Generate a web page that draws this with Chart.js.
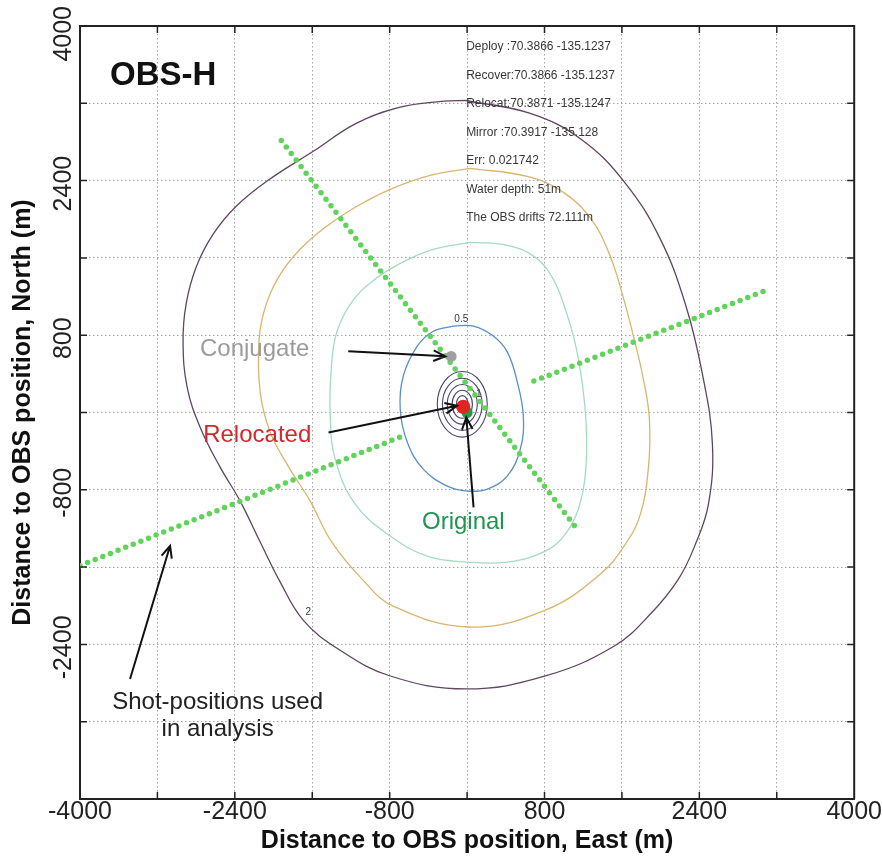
<!DOCTYPE html>
<html>
<head>
<meta charset="utf-8">
<title>OBS-H</title>
<script src="https://cdn.jsdelivr.net/npm/chart.js@4.4.1/dist/chart.umd.min.js"></script>
<style>
  html, body { margin: 0; padding: 0; background: #fff; }
</style>
</head>
<body>
<canvas id="obsChart" width="883" height="860"></canvas>
<script>
// tick labels (metres)
const xTickLabels = [-4000, -2400, -800, 800, 2400, 4000];
const yTickLabels = [-2400, -800, 800, 2400, 4000];

// shot lines, end points (East, North)
const shotLineA = [[-1920, 2815], [1135, -1205]];
const shotLineB1 = [[-4000, -1585], [-620, -225]];
const shotLineB2 = [[690, 325], [3105, 1270]];

// positions
const originalPos = [0, 0];
const relocatedPos = [-40, 60];
const conjugatePos = [-165, 580];

// misfit contours
const contour05 = [
    [-143, 894], [64, 894], [271, 791], [416, 625], [519, 315], [581, -38],
    [550, -379], [416, -655], [209, -792], [2, -813], [-205, -762], [-453, -586],
    [-618, -307], [-691, 34], [-660, 375], [-515, 686], [-349, 841]
];
const contour1 = [
    [33, 1761], [416, 1730], [705, 1606], [891, 1378], [1015, 1068], [1119, 706],
    [1191, 293], [1233, -172], [1222, -637], [1150, -999], [1015, -1258], [809, -1434],
    [416, -1548], [2, -1548], [-412, -1486], [-794, -1279], [-1156, -948], [-1363, -482],
    [-1415, -18], [-1404, 448], [-1353, 810], [-1208, 1120], [-980, 1358], [-691, 1544],
    [-350, 1689]
];
const contour15 = [
    [33, 2526], [622, 2443], [995, 2278], [1284, 1999], [1471, 1637], [1605, 1223],
    [1719, 789], [1822, 344], [1884, -69], [1874, -565], [1791, -1052], [1636, -1362],
    [1377, -1672], [809, -2045], [23, -2220], [-764, -2003], [-1085, -1724], [-1405, -1331],
    [-1621, -917], [-1849, -555], [-2035, -203], [-2138, 211], [-2149, 758], [-2076, 1120],
    [-1931, 1430], [-1725, 1689], [-1466, 1917], [-1156, 2124], [-794, 2310], [-381, 2454]
];
const contour2 = [
    [-8, 3229], [653, 3095], [1181, 2826], [1636, 2372], [1998, 1792], [2256, 1120],
    [2432, 396], [2535, -327], [2494, -948], [2360, -1362], [2184, -1724], [1894, -2086],
    [1522, -2416], [809, -2727], [-8, -2861], [-794, -2727], [-1332, -2448], [-1694, -2148],
    [-1931, -1755], [-2138, -1341], [-2345, -917], [-2552, -565], [-2759, -152], [-2893, 262],
    [-2935, 728], [-2904, 1120], [-2800, 1503], [-2624, 1845], [-2386, 2134], [-2056, 2403],
    [-1590, 2703], [-1146, 2992], [-701, 3157], [-267, 3219]
];

// small inner contours round the relocated point (half widths / heights, metres)
const ringCentre = [-50, 85];
const ringHalfX = [60, 105, 155, 205, 258];
const ringHalfY = [90, 145, 205, 270, 340];

const infoLines = [
    'Deploy :70.3866 -135.1237',
    'Recover:70.3866 -135.1237',
    'Relocat:70.3871 -135.1247',
    'Mirror :70.3917 -135.128',
    'Err: 0.021742',
    'Water depth: 51m',
    'The OBS drifts 72.111m'
];

const FONT = '"Liberation Sans", Arial, sans-serif';

// labels placed in data units
const notes = [
    { text: 'OBS-H', at: [-3690, 3480], colour: '#111', font: 'bold 33px ' + FONT, align: 'left' },
    { text: 'Conjugate', at: [-2760, 655], colour: '#9b9b9b', font: '24px ' + FONT, align: 'left' },
    { text: 'Relocated', at: [-2727, -241], colour: '#d0282c', font: '24px ' + FONT, align: 'left' },
    { text: 'Original', at: [-466, -1137], colour: '#1e9650', font: '24px ' + FONT, align: 'left' },
    { text: 'Shot-positions used', at: [-2578, -2999], colour: '#222', font: '24px ' + FONT, align: 'center' },
    { text: 'in analysis', at: [-2578, -3278], colour: '#222', font: '24px ' + FONT, align: 'center' },
    { text: '0.5', at: [-60, 962], colour: '#333', font: '10px ' + FONT, align: 'center' },
    { text: '1', at: [120, 190], colour: '#333', font: '10px ' + FONT, align: 'center' },
    { text: '2', at: [-1640, -2070], colour: '#333', font: '10px ' + FONT, align: 'center' }
];

const arrows = [
    [[-1228, 634], [-225, 582]],
    [[-1432, -207], [-104, 69]],
    [[67, -982], [-8, -52]],
    [[-3483, -2758], [-3069, -1379]]
];

function pts(list) {
    return list.map(p => ({ x: p[0], y: p[1] }));
}

function closed(list) {
    return pts(list.concat([list[0]]));
}

function contourSet(list, colour, width) {
    return {
        data: closed(list),
        showLine: true,
        borderColor: colour,
        borderWidth: width,
        tension: 0.4,
        pointRadius: 0,
        fill: false
    };
}

function shotSet(list) {
    return {
        data: pts(list),
        showLine: true,
        borderColor: '#5fd35a',
        borderWidth: 5.5,
        borderDash: [0, 8.2],
        borderCapStyle: 'round',
        pointRadius: 0,
        fill: false
    };
}

function pointSet(p, colour, r) {
    return {
        data: pts([p]),
        pointRadius: r,
        pointBackgroundColor: colour,
        pointBorderColor: colour,
        pointBorderWidth: 0
    };
}

function drawArrow(ctx, x1, y1, x2, y2) {
    const a = Math.atan2(y2 - y1, x2 - x1);
    const h = 13;
    ctx.beginPath();
    ctx.moveTo(x1, y1);
    ctx.lineTo(x2, y2);
    ctx.moveTo(x2 - h * Math.cos(a - 0.42), y2 - h * Math.sin(a - 0.42));
    ctx.lineTo(x2, y2);
    ctx.lineTo(x2 - h * Math.cos(a + 0.42), y2 - h * Math.sin(a + 0.42));
    ctx.stroke();
}

const overlay = {
    id: 'overlay',
    beforeDatasetsDraw(chart) {
        const { ctx, scales: { x, y } } = chart;
        const cx = x.getPixelForValue(ringCentre[0]);
        const cy = y.getPixelForValue(ringCentre[1]);
        ctx.save();
        ctx.strokeStyle = '#4a4470';
        ctx.lineWidth = 1.1;
        ringHalfX.forEach((hx, i) => {
            const rx = x.getPixelForValue(ringCentre[0] + hx) - cx;
            const ry = cy - y.getPixelForValue(ringCentre[1] + ringHalfY[i]);
            ctx.beginPath();
            ctx.ellipse(cx, cy, rx, ry, 0, 0, Math.PI * 2);
            ctx.stroke();
        });
        ctx.restore();
    },
    afterDraw(chart) {
        const { ctx, chartArea: a, scales: { x, y } } = chart;
        ctx.save();

        // box on top and right
        ctx.strokeStyle = '#222';
        ctx.lineWidth = 2;
        ctx.beginPath();
        ctx.moveTo(a.left, a.top);
        ctx.lineTo(a.right, a.top);
        ctx.lineTo(a.right, a.bottom);
        ctx.stroke();

        // inward tick marks on all four sides
        ctx.lineWidth = 1.5;
        ctx.beginPath();
        for (let v = -3200; v <= 3200; v += 800) {
            const px = x.getPixelForValue(v);
            const py = y.getPixelForValue(v);
            ctx.moveTo(px, a.bottom); ctx.lineTo(px, a.bottom - 7);
            ctx.moveTo(px, a.top); ctx.lineTo(px, a.top + 7);
            ctx.moveTo(a.left, py); ctx.lineTo(a.left + 7, py);
            ctx.moveTo(a.right, py); ctx.lineTo(a.right - 7, py);
        }
        ctx.stroke();

        // rotated y tick labels
        ctx.fillStyle = '#222';
        ctx.font = '25px ' + FONT;
        ctx.textAlign = 'center';
        ctx.textBaseline = 'middle';
        yTickLabels.forEach(v => {
            const s = String(v);
            const half = ctx.measureText(s).width / 2;
            const py = Math.max(y.getPixelForValue(v) + 3, half + 6);
            ctx.save();
            ctx.translate(64, py);
            ctx.rotate(-Math.PI / 2);
            ctx.fillText(s, 0, 0);
            ctx.restore();
        });

        // text block in the top right
        ctx.fillStyle = '#383838';
        ctx.font = '12px ' + FONT;
        ctx.textAlign = 'left';
        ctx.textBaseline = 'alphabetic';
        infoLines.forEach((line, i) => {
            ctx.fillText(line, x.getPixelForValue(-10), y.getPixelForValue(3750 - i * 295));
        });

        // labels
        ctx.textBaseline = 'middle';
        notes.forEach(n => {
            ctx.fillStyle = n.colour;
            ctx.font = n.font;
            ctx.textAlign = n.align;
            ctx.fillText(n.text, x.getPixelForValue(n.at[0]), y.getPixelForValue(n.at[1]));
        });

        // arrows
        ctx.strokeStyle = '#111';
        ctx.lineWidth = 2;
        arrows.forEach(([p, q]) => {
            drawArrow(ctx, x.getPixelForValue(p[0]), y.getPixelForValue(p[1]),
                x.getPixelForValue(q[0]), y.getPixelForValue(q[1]));
        });

        ctx.restore();
    }
};

const axisGrid = { color: '#a2a2a2', lineWidth: 1, drawTicks: false };
const axisBorder = { display: true, color: '#222', width: 2, dash: [1.5, 2.5] };

const config = {
    type: 'scatter',
    data: {
        datasets: [
            pointSet(relocatedPos, '#e3231f', 7),
            pointSet(originalPos, '#1f9a45', 5.5),
            pointSet(conjugatePos, '#a0a0a0', 5.5),
            shotSet(shotLineA),
            shotSet(shotLineB1),
            shotSet(shotLineB2),
            contourSet(contour05, '#5a8fc4', 1.3),
            contourSet(contour1, '#a3dbc2', 1.3),
            contourSet(contour15, '#dab46e', 1.3),
            contourSet(contour2, '#5e4660', 1.3)
        ]
    },
    options: {
        responsive: false,
        animation: false,
        layout: { padding: { top: 26, right: 1, bottom: 0, left: 0 } },
        plugins: {
            legend: { display: false },
            tooltip: { enabled: false }
        },
        scales: {
            x: {
                type: 'linear',
                min: -4000,
                max: 4000,
                grid: axisGrid,
                border: axisBorder,
                ticks: {
                    stepSize: 800,
                    autoSkip: false,
                    maxRotation: 0,
                    padding: 1,
                    color: '#222',
                    font: { family: FONT, size: 25, lineHeight: 1 },
                    callback: v => xTickLabels.includes(v) ? String(v) : ''
                },
                title: {
                    display: true,
                    text: 'Distance to OBS position, East (m)',
                    color: '#111',
                    font: { family: FONT, size: 25, weight: 'bold', lineHeight: 1 },
                    padding: { top: 2.5, bottom: 6.5 }
                }
            },
            y: {
                type: 'linear',
                min: -4000,
                max: 4000,
                grid: axisGrid,
                border: axisBorder,
                ticks: { stepSize: 800, display: false },
                title: {
                    display: true,
                    text: 'Distance to OBS position, North (m)',
                    color: '#111',
                    font: { family: FONT, size: 25, weight: 'bold', lineHeight: 1 },
                    padding: { top: 10.5, bottom: 44.5 }
                }
            }
        }
    },
    plugins: [overlay]
};

const ctx = document.getElementById('obsChart').getContext('2d');
new Chart(ctx, config);
</script>
</body>
</html>
